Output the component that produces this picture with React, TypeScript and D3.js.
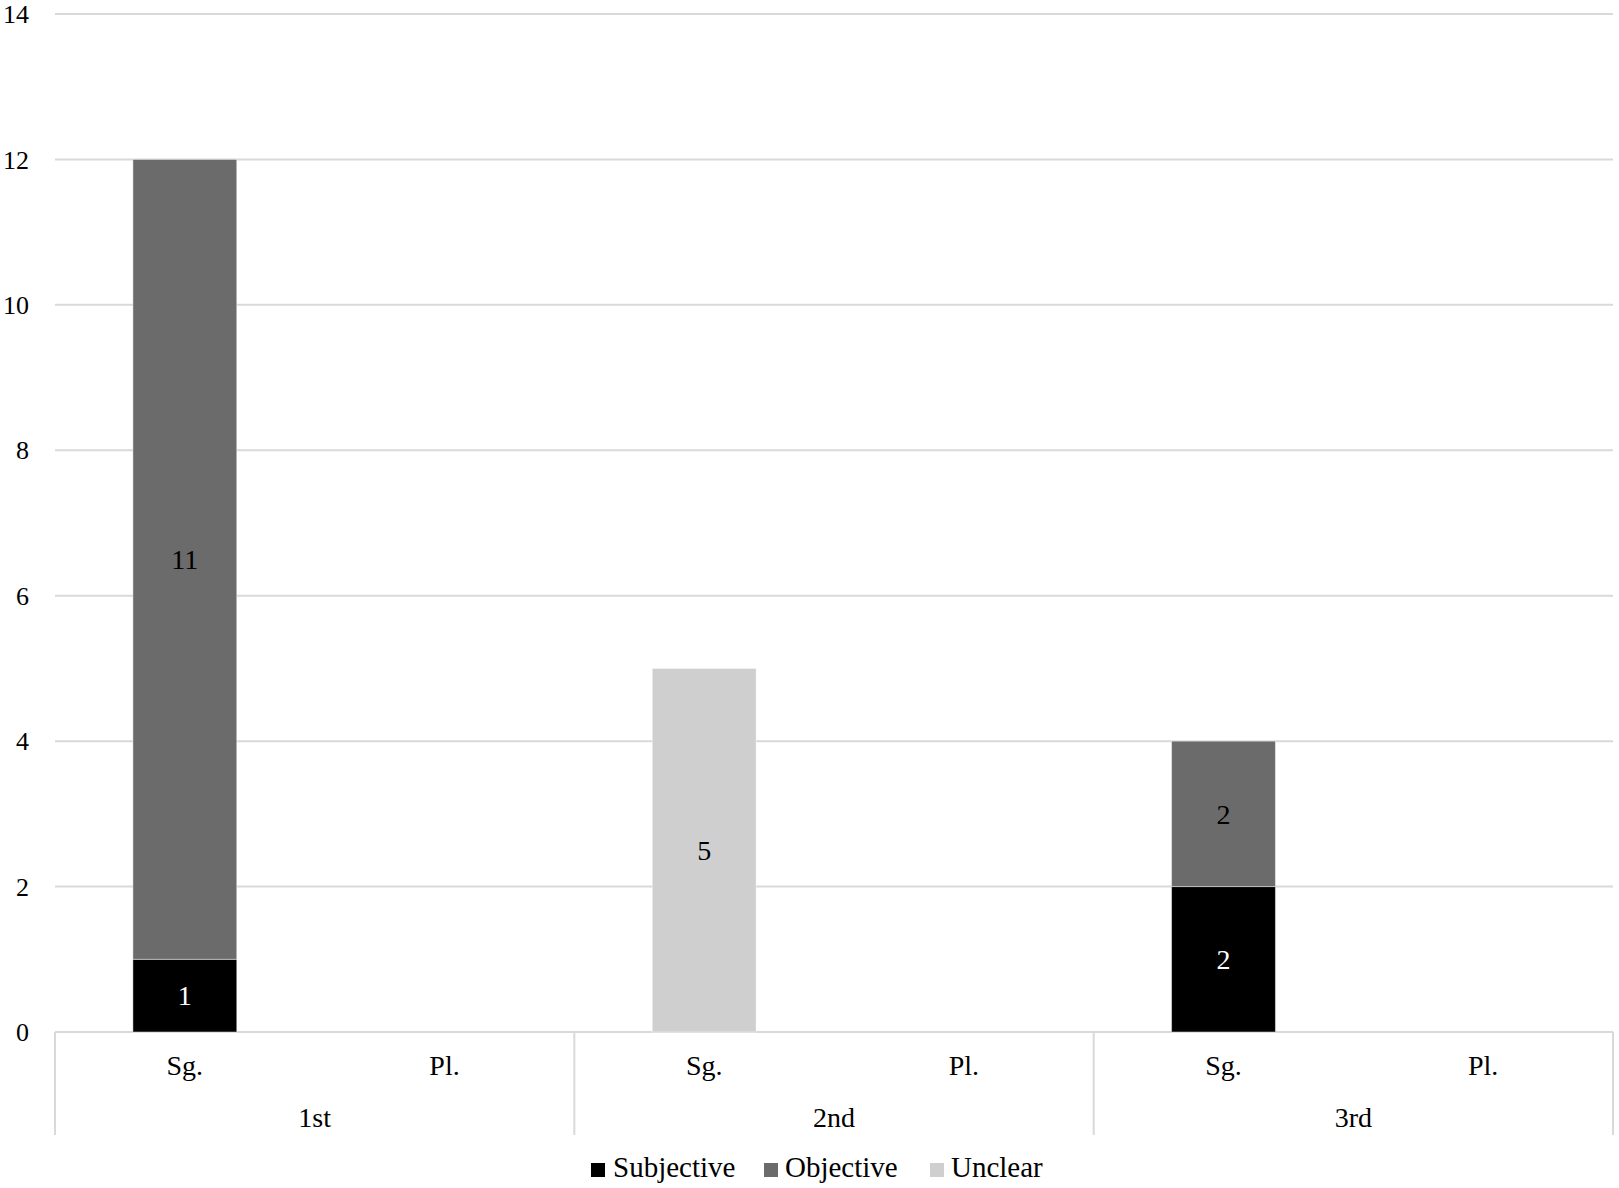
import React from "react";
import * as d3 from "d3";

const groups = ["1st", "2nd", "3rd"];
const numbers = ["Sg.", "Pl."];
const seriesNames = ["Subjective", "Objective", "Unclear"];
const subjective = [1, 0, 0, 0, 2, 0];
const objective = [11, 0, 0, 0, 2, 0];
const unclear = [0, 0, 5, 0, 0, 0];
const yTicks = [0, 2, 4, 6, 8, 10, 12, 14];
const colors = ["#000000", "#6b6b6b", "#cfcfcf"];
const labelColors = ["#ffffff", "#000000", "#000000"];

const W = 1619;
const H = 1188;
const left = 55;
const right = 1613;
const baseY = 1032;
const topY = 14;
const font = "'Liberation Serif', 'Times New Roman', serif";

export default function App() {
  const cats: string[] = [];
  groups.forEach((g) => numbers.forEach((n) => cats.push(g + "|" + n)));
  const rows = cats.map((c, i) => ({
    cat: c,
    Subjective: subjective[i],
    Objective: objective[i],
    Unclear: unclear[i],
  }));
  const x = d3
    .scaleBand<string>()
    .domain(cats)
    .range([left, right])
    .paddingInner(0.6)
    .paddingOuter(0.3);
  const gx = d3.scaleBand<string>().domain(groups).range([left, right]);
  const y = d3.scaleLinear().domain([0, 14]).range([baseY, topY]);
  const stack = d3.stack<any>().keys(seriesNames);
  const stacked = stack(rows);

  const legendItems = [
    { sq: 591, tx: 613 },
    { sq: 764, tx: 785 },
    { sq: 930, tx: 951 },
  ];

  return (
    <div style={{ position: "absolute", left: 0, top: 0 }}>
      <svg width={W} height={H} style={{ display: "block", background: "#fff" }}>
        <rect x={0} y={0} width={W} height={H} fill="#fff" />
        {yTicks.map((t) => (
          <g key={t}>
            <line x1={left} x2={right} y1={y(t)} y2={y(t)} stroke="#d9d9d9" strokeWidth={2} />
            <text
              x={29}
              y={y(t)}
              dy="0.35em"
              textAnchor="end"
              fontFamily={font}
              fontSize={26}
              fill="#000"
            >
              {t}
            </text>
          </g>
        ))}
        {[...groups.map((g) => gx(g)!), right].map((xx, i) => (
          <line key={i} x1={xx} x2={xx} y1={baseY} y2={1135} stroke="#d9d9d9" strokeWidth={2} />
        ))}
        {stacked.map((s, si) =>
          s.map((d, i) => {
            const v = d[1] - d[0];
            if (v <= 0) return null;
            const bx = x(cats[i])!;
            return (
              <g key={si + "-" + i}>
                <rect
                  x={bx}
                  y={y(d[1])}
                  width={x.bandwidth()}
                  height={y(d[0]) - y(d[1])}
                  fill={colors[si]}
                  stroke="#ffffff"
                  strokeOpacity={0.45}
                  strokeWidth={1}
                />
                <text
                  x={bx + x.bandwidth() / 2}
                  y={(y(d[0]) + y(d[1])) / 2}
                  dy="0.35em"
                  textAnchor="middle"
                  fontFamily={font}
                  fontSize={28}
                  fill={labelColors[si]}
                >
                  {v}
                </text>
              </g>
            );
          })
        )}
        {cats.map((c) => (
          <text
            key={c}
            x={x(c)! + x.bandwidth() / 2}
            y={1075}
            textAnchor="middle"
            fontFamily={font}
            fontSize={28}
            fill="#000"
          >
            {c.split("|")[1]}
          </text>
        ))}
        {groups.map((g) => (
          <text
            key={g}
            x={gx(g)! + gx.bandwidth() / 2}
            y={1127}
            textAnchor="middle"
            fontFamily={font}
            fontSize={28}
            fill="#000"
          >
            {g}
          </text>
        ))}
        {seriesNames.map((n, i) => (
          <g key={n}>
            <rect x={legendItems[i].sq} y={1163} width={14} height={14} fill={colors[i]} />
            <text x={legendItems[i].tx} y={1177} fontFamily={font} fontSize={29} fill="#000">
              {n}
            </text>
          </g>
        ))}
      </svg>
    </div>
  );
}
